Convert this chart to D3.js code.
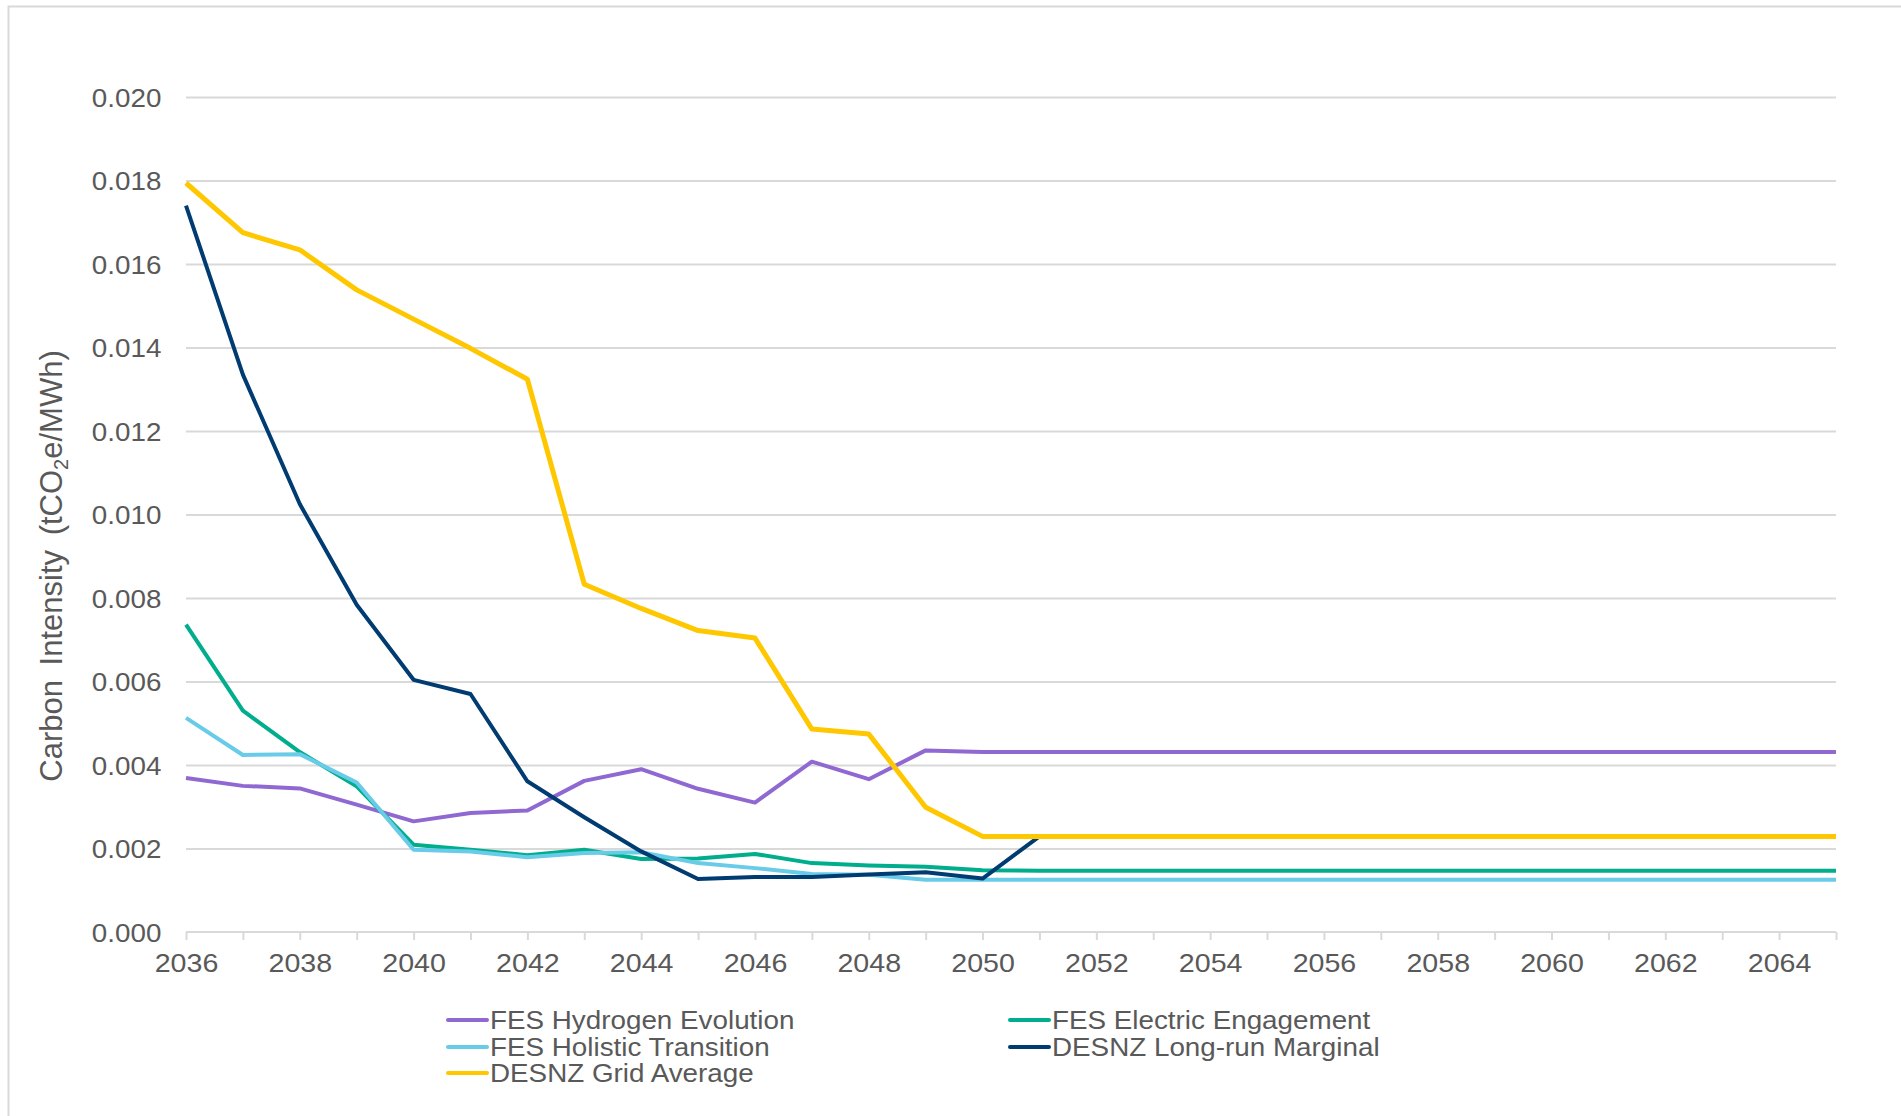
<!DOCTYPE html>
<html>
<head>
<meta charset="utf-8">
<script src="https://cdn.jsdelivr.net/npm/d3@7"></script>
<style>
  body { margin: 0; background: #fff; }
  svg text { font-family: "Liberation Sans", Arial, sans-serif; fill: #595959; }
</style>
</head>
<body>
<svg id="chart" width="1901" height="1116"></svg>
<script>
var years = [2036, 2037, 2038, 2039, 2040, 2041, 2042, 2043, 2044, 2045,
             2046, 2047, 2048, 2049, 2050, 2051, 2052, 2053, 2054, 2055,
             2056, 2057, 2058, 2059, 2060, 2061, 2062, 2063, 2064, 2065];

var hydrogenEvolution = [0.00369, 0.00350, 0.00344, 0.00305, 0.00265, 0.00285, 0.00291, 0.00362, 0.00390, 0.00343,
                         0.00310, 0.00408, 0.00366, 0.00435, 0.00431, 0.00431, 0.00431, 0.00431, 0.00431, 0.00431,
                         0.00431, 0.00431, 0.00431, 0.00431, 0.00431, 0.00431, 0.00431, 0.00431, 0.00431, 0.00431];

var electricEngagement = [0.00736, 0.00530, 0.00431, 0.00349, 0.00209, 0.00197, 0.00184, 0.00197, 0.00175, 0.00176,
                          0.00187, 0.00165, 0.00159, 0.00156, 0.00148, 0.00147, 0.00147, 0.00147, 0.00147, 0.00147,
                          0.00147, 0.00147, 0.00147, 0.00147, 0.00147, 0.00147, 0.00147, 0.00147, 0.00147, 0.00147];

var holisticTransition = [0.00513, 0.00424, 0.00426, 0.00358, 0.00197, 0.00193, 0.00179, 0.00189, 0.00191, 0.00165,
                          0.00153, 0.00139, 0.00137, 0.00125, 0.00125, 0.00125, 0.00125, 0.00125, 0.00125, 0.00125,
                          0.00125, 0.00125, 0.00125, 0.00125, 0.00125, 0.00125, 0.00125, 0.00125, 0.00125, 0.00125];

var longRunMarginal = [0.01740, 0.01335, 0.01025, 0.00784, 0.00604, 0.00570, 0.00361, 0.00275, 0.00193, 0.00127,
                       0.00132, 0.00132, 0.00138, 0.00143, 0.00128, 0.00229, 0.00229, 0.00229, 0.00229, 0.00229,
                       0.00229, 0.00229, 0.00229, 0.00229, 0.00229, 0.00229, 0.00229, 0.00229, 0.00229, 0.00229];

var gridAverage = [0.01794, 0.01675, 0.01634, 0.01538, 0.01468, 0.01398, 0.01324, 0.00833, 0.00775, 0.00722,
                   0.00704, 0.00486, 0.00474, 0.00299, 0.00229, 0.00229, 0.00229, 0.00229, 0.00229, 0.00229,
                   0.00229, 0.00229, 0.00229, 0.00229, 0.00229, 0.00229, 0.00229, 0.00229, 0.00229, 0.00229];

var seriesNames = ["FES Hydrogen Evolution", "FES Electric Engagement", "FES Holistic Transition",
                   "DESNZ Long-run Marginal", "DESNZ Grid Average"];
var seriesColors = ["#9068d2", "#00ad8c", "#68cbe8", "#003b71", "#ffc700"];

var yTicks = [0, 0.002, 0.004, 0.006, 0.008, 0.010, 0.012, 0.014, 0.016, 0.018, 0.020];
var xLabelYears = [2036, 2038, 2040, 2042, 2044, 2046, 2048, 2050, 2052, 2054, 2056, 2058, 2060, 2062, 2064];

var seriesValues = [hydrogenEvolution, electricEngagement, holisticTransition, longRunMarginal, gridAverage];

var svg = d3.select("#chart");

// outer frame (only left and top edges fall inside the picture)
svg.append("rect")
  .attr("x", 8.5).attr("y", 6.5)
  .attr("width", 1920).attr("height", 1140)
  .style("fill", "none")
  .style("stroke", "#d9d9d9")
  .style("stroke-width", 2);

var x = d3.scaleLinear().domain([2036, 2065]).range([186, 1836]);
var y = d3.scaleLinear().domain([0, 0.020]).range([932, 97]);

// the source picture is a little wider than tall, so text gets a slight horizontal stretch
var stretch = "scale(1.07,1)";

// horizontal gridlines
var yAxis = d3.axisLeft(y)
  .tickValues(yTicks)
  .tickSize(-(1836 - 186))
  .tickPadding(23)
  .tickFormat(d3.format(".3f"));

var gy = svg.append("g")
  .attr("transform", "translate(186,0)")
  .call(yAxis);
gy.select(".domain").remove();
gy.selectAll(".tick line")
  .style("stroke", function(d) { return d === 0 ? "none" : "#d9d9d9"; })
  .style("stroke-width", 2);
gy.selectAll(".tick text")
  .style("font-size", "26px")
  .attr("dy", "0.35em")
  .attr("transform", stretch);

// x axis: tick every year, labels every second year
var xAxis = d3.axisBottom(x)
  .tickValues(years)
  .tickSize(8)
  .tickPadding(14)
  .tickFormat(function(d) { return xLabelYears.indexOf(d) >= 0 ? d : ""; });

var gx = svg.append("g")
  .attr("transform", "translate(0,932)")
  .call(xAxis);
gx.select(".domain")
  .attr("d", "M186,0H1836")
  .style("stroke", "#d9d9d9")
  .style("stroke-width", 2);
gx.selectAll(".tick line")
  .style("stroke", "#d9d9d9")
  .style("stroke-width", 2);
gx.selectAll(".tick text")
  .style("font-size", "26px")
  .attr("transform", "scale(1.1,1)");

// y axis title
var title = svg.append("text")
  .attr("transform", "translate(62,566) rotate(-90)")
  .attr("text-anchor", "middle")
  .style("font-size", "31px")
  .style("word-spacing", "6px");
title.append("tspan").text("Carbon Intensity (tCO");
title.append("tspan").text("2").style("font-size", "20px").attr("dy", 6);
title.append("tspan").text("e/MWh)").attr("dy", -6);

// series lines, grid average drawn last (and a touch wider) so it hides the long-run line after 2051
var line = d3.line()
  .x(function(d, i) { return x(years[i]); })
  .y(function(d) { return y(d); });

svg.append("g").selectAll("path")
  .data(seriesValues)
  .enter().append("path")
  .attr("d", line)
  .style("fill", "none")
  .style("stroke", function(d, i) { return seriesColors[i]; })
  .style("stroke-width", function(d, i) { return i === 4 ? 5 : 4; })
  .style("stroke-linejoin", "round");

// legend
var legendX = [446, 1008];
var legendY = [1020, 1047, 1073];
var legend = svg.append("g").selectAll("g")
  .data(seriesNames)
  .enter().append("g")
  .attr("transform", function(d, i) {
    return "translate(" + legendX[i % 2] + "," + legendY[Math.floor(i / 2)] + ")";
  });

legend.append("line")
  .attr("x1", 2).attr("x2", 41)
  .attr("y1", 0).attr("y2", 0)
  .style("stroke", function(d, i) { return seriesColors[i]; })
  .style("stroke-width", 4)
  .style("stroke-linecap", "round");

legend.append("text")
  .attr("transform", "translate(44,0) " + stretch)
  .attr("dy", "0.35em")
  .style("font-size", "26px")
  .text(function(d) { return d; });
</script>
</body>
</html>
